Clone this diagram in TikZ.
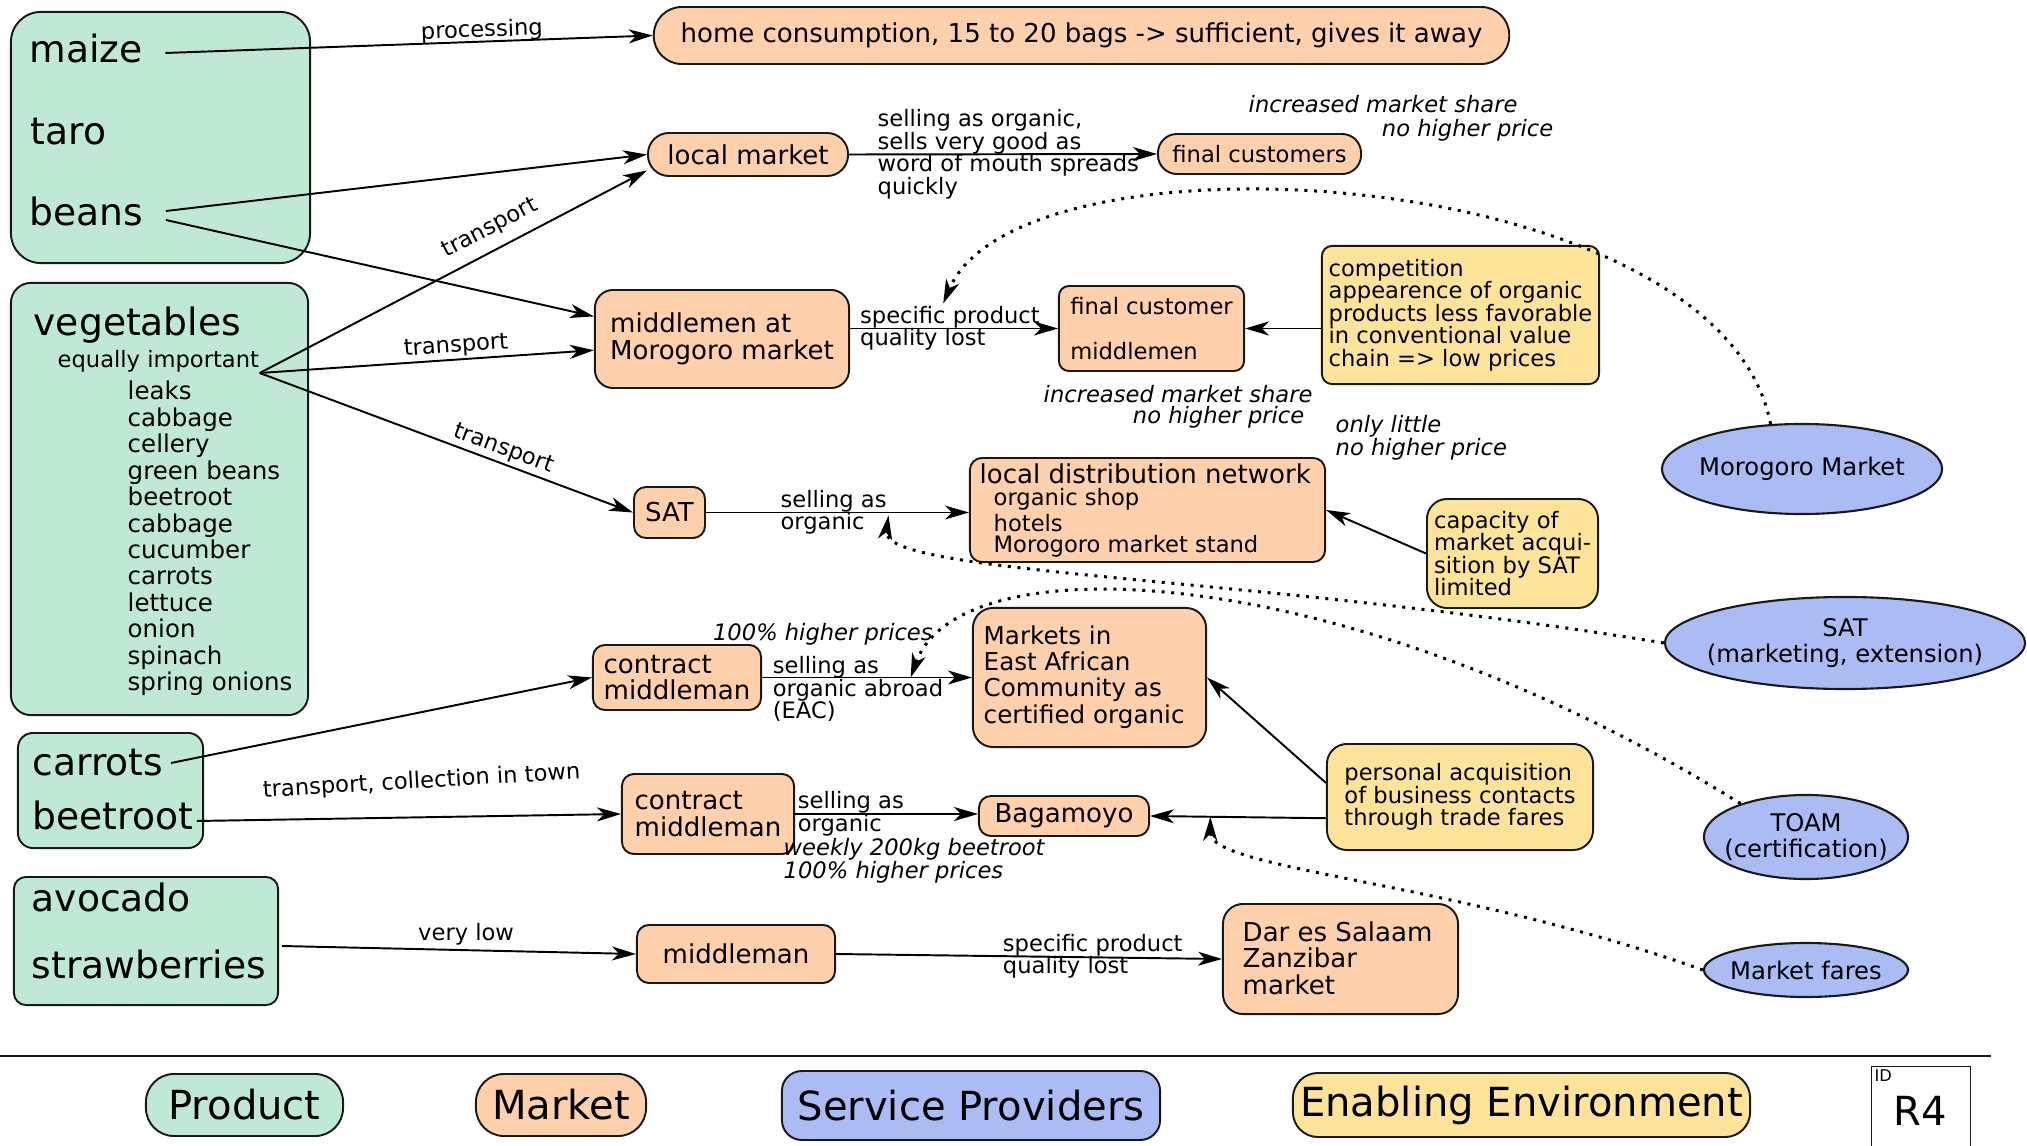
\documentclass[tikz,border=0pt]{standalone}
\usepackage{fontspec}
\setmainfont{DejaVu Sans}
\usetikzlibrary{arrows.meta,shapes.geometric,calc}

\definecolor{prodfill}{RGB}{191,233,212}
\definecolor{mktfill}{RGB}{254,208,172}
\definecolor{svcfill}{RGB}{170,188,243}
\definecolor{envfill}{RGB}{254,228,155}
\definecolor{rim}{RGB}{25,25,25}

\newcommand\fSmall{\fontsize{6.43pt}{6.4pt}\selectfont}
\newcommand\fMid{\fontsize{7.4pt}{7.55pt}\selectfont}
\newcommand\fBig{\fontsize{10.7pt}{12pt}\selectfont}
\newcommand\fSvc{\fontsize{6.9pt}{7.25pt}\selectfont}
\newcommand\fLeg{\fontsize{11.4pt}{12pt}\selectfont}
\newcommand\fList{\fontsize{6.97pt}{7.52pt}\selectfont}
\newcommand\fEac{\fontsize{7.0pt}{7.5pt}\selectfont}
\newcommand\fTag{\fontsize{4.6pt}{5pt}\selectfont}

\tikzset{
  box/.style={draw=rim, line width=0.55pt, inner sep=0pt, align=left},
  prod/.style={box, fill=prodfill},
  mkt/.style={box, fill=mktfill},
  env/.style={box, fill=envfill},
  svc/.style={draw=rim, line width=0.6pt, fill=svcfill, ellipse, inner sep=0pt},
  svctext/.style={font=\fSvc, align=center, inner sep=0pt},
  word/.style={font=\fBig, inner sep=0pt, anchor=mid west},
  link/.style={draw, line width=0.55pt, -{Stealth[length=0.24cm,width=0.14cm,inset=0.07cm]}},
  hint/.style={line width=0.85pt, dash pattern=on 0.85pt off 1.9pt, -{Stealth[length=0.24cm,width=0.14cm,inset=0.07cm]}},
  lbl/.style={font=\fSmall, inner sep=0pt, align=left},
  note/.style={font=\fSmall\itshape, inner sep=0pt, align=left},
}

\begin{document}
\begin{tikzpicture}[x=0.01cm, y=-0.01cm]
\useasboundingbox (0,0) rectangle (2027,1146);

% ---------- products ----------
\node[prod, minimum width=2.99cm, minimum height=2.51cm, rounded corners=0.3cm] (grainbox) at (160.5,137.5) {};
\node[word] (maize) at (29,53) {maize};
\node[word] (taro) at (30,135) {taro};
\node[word] (beans) at (29,216) {beans};

\node[prod, minimum width=2.97cm, minimum height=4.32cm, rounded corners=0.2cm] (vegbox) at (159.5,499) {};
\node[word] (veg) at (33,326) {vegetables};
\node[font=\fSmall, inner sep=0pt, anchor=mid west] (eqimp) at (57,358) {equally important};
\node[font=\fList, inner sep=0pt, align=left, anchor=west] (veglist) at (127,538.5)
  {leaks\\cabbage\\cellery\\green beans\\beetroot\\cabbage\\cucumber\\carrots\\lettuce\\onion\\spinach\\spring onions};

\node[prod, minimum width=1.85cm, minimum height=1.15cm, rounded corners=0.15cm] (cbbox) at (110.5,790.5) {};
\node[word] (carrots) at (32,766) {carrots};
\node[word] (beetroot) at (32,820) {beetroot};

\node[prod, minimum width=2.64cm, minimum height=1.28cm, rounded corners=0.12cm] (fruitbox) at (146,941) {};
\node[word] (avocado) at (31,902) {avocado};
\node[word] (straw) at (31,969) {strawberries};

% ---------- markets ----------
\node[mkt, font=\fMid, minimum width=8.55cm, minimum height=0.57cm, rounded corners=0.28cm] (home) at (1081.5,35.5)
  {home consumption, 15 to 20 bags -> sufficient, gives it away};
\node[mkt, font=\fMid, minimum width=2.0cm, minimum height=0.43cm, rounded corners=0.21cm] (locmkt) at (748,154.5) {local market};
\node[mkt, font=\fSmall, minimum width=2.03cm, minimum height=0.40cm, rounded corners=0.19cm] (finalcust) at (1259.5,154) {final customers};
\node[mkt, font=\fMid, minimum width=2.54cm, minimum height=0.98cm, rounded corners=0.18cm] (mmoro) at (722,339) {middlemen at\\Morogoro market};
\node[mkt, font=\fSmall, minimum width=1.85cm, minimum height=0.85cm, rounded corners=0.1cm] (fcmid) at (1151.5,328.5) {final customer\\[6.4pt]middlemen};
\node[mkt, font=\fMid, minimum width=0.71cm, minimum height=0.51cm, rounded corners=0.12cm] (satmkt) at (669.5,512.5) {SAT};
\node[mkt, minimum width=3.55cm, minimum height=1.04cm, rounded corners=0.12cm] (ldn) at (1147.5,510) {};
\node[font=\fMid, inner sep=0pt, anchor=mid west] (ldntitle) at (979,474) {local distribution network};
\node[font=\fontsize{6.43pt}{6.12pt}\selectfont, inner sep=0pt, align=left, anchor=west] (ldnlist) at (993,523)
  {organic shop\\hotels\\Morogoro market stand};
\node[mkt, font=\fMid, minimum width=1.68cm, minimum height=0.65cm, rounded corners=0.12cm] (cmtop) at (677,677.5) {contract\\middleman};
\node[mkt, minimum width=2.33cm, minimum height=1.39cm, rounded corners=0.2cm] (eac) at (1089.5,677.5) {};
\node[font=\fEac, inner sep=0pt, align=left, anchor=west] (eactext) at (983,677)
  {Markets in\\East African\\Community as\\certified organic};
\node[mkt, font=\fMid, minimum width=1.72cm, minimum height=0.80cm, rounded corners=0.12cm] (cmbot) at (708,814) {contract\\middleman};
\node[mkt, font=\fMid, minimum width=1.70cm, minimum height=0.40cm, rounded corners=0.12cm] (bagamoyo) at (1064,816) {Bagamoyo};
\node[mkt, font=\fMid, minimum width=1.98cm, minimum height=0.58cm, rounded corners=0.12cm] (mman) at (736,954) {middleman};
\node[mkt, minimum width=2.35cm, minimum height=1.10cm, rounded corners=0.2cm] (dar) at (1340.5,959) {};
\node[font=\fMid, inner sep=0pt, align=left, anchor=west] (dartext) at (1242,958) {Dar es Salaam\\Zanzibar\\market};

% ---------- enabling environment ----------
\node[env, font=\fSmall, minimum width=2.77cm, minimum height=1.38cm, rounded corners=0.1cm] (compet) at (1460.5,315)
  {competition\\appearence of organic\\products less favorable\\in conventional value\\chain => low prices};
\node[env, font=\fSmall, minimum width=1.71cm, minimum height=1.09cm, rounded corners=0.2cm] (capac) at (1512.5,553.5)
  {capacity of\\market acqui-\\sition by SAT\\limited};
\node[env, font=\fSmall, minimum width=2.66cm, minimum height=1.06cm, rounded corners=0.2cm] (persacq) at (1460,797)
  {personal acquisition\\of business contacts\\through trade fares};

% ---------- service providers ----------
\node[svc, minimum width=2.8cm, minimum height=0.9cm, label={[svctext]center:Morogoro Market}] (svcmoro) at (1802,469) {};
\node[svc, minimum width=3.6cm, minimum height=0.92cm, label={[svctext]center:SAT\\(marketing, extension)}] (svcsat) at (1845,643) {};
\node[svc, minimum width=2.04cm, minimum height=0.84cm, label={[svctext]center:TOAM\\(certification)}] (svctoam) at (1806,837) {};
\node[svc, minimum width=2.04cm, minimum height=0.54cm, label={[svctext]center:Market fares}] (svcfares) at (1806,970) {};

% ---------- flows ----------
\draw[link] ($(maize.mid east)+(22,0)$) -- node[lbl, pos=.65, above=-0.3pt, sloped]{processing} (home.west);
\draw[link] ($(beans.mid east)+(22,-5)$) -- (locmkt.west);
\draw[link] ($(beans.mid east)+(22,4)$) -- (mmoro.170);
\draw[link] (eqimp.south east) -- node[lbl, pos=.62, above=2.8pt, sloped]{transport} (locmkt.189);
\draw[link] (eqimp.south east) -- node[lbl, pos=.59, above=.5pt, sloped]{transport} (mmoro.185);
\draw[link] (eqimp.south east) -- node[lbl, pos=.64, above=.8pt, sloped]{transport} (satmkt.west);
\draw[link] ($(carrots.mid east)+(7,-3)$) -- (cmtop.west);
\draw[link] ($(beetroot.mid east)+(3,1)$) -- node[lbl, pos=.53, yshift=0.355cm, rotate=3.3]{transport, collection in town} (cmbot.west);
\draw[link] ($(fruitbox.east)+(3,5)$) -- node[lbl, pos=.52, above=1pt]{very low} (mman.west);

\draw[link] (locmkt.east) -- node[lbl, pos=.09, anchor=west]{selling as organic,\\sells very good as\\word of mouth spreads\\quickly} (finalcust.west);
\draw[link] (mmoro.east |- fcmid.west) -- node[lbl, pos=.044, anchor=west]{specific product\\quality lost}
  coordinate[pos=.448] (mmtarget) (fcmid.west);
\draw[link] (fcmid.east -| compet.west) -- (fcmid.east);
\draw[link] (satmkt.east) -- node[lbl, pos=.28, anchor=west]{selling as\\organic}
  coordinate[pos=.694] (satlink) (satmkt.east -| ldn.west);
\draw[link] (capac.west) -- (ldn.east);
\draw[link] (cmtop.east) -- node[lbl, pos=.047, anchor=west, yshift=-0.115cm]{selling as\\organic abroad\\(EAC)}
  node[note, pos=.29, yshift=0.43cm]{100\% higher prices}
  coordinate[pos=.708] (eaclink) (eac.west);
\draw[link] (persacq.174) -- (eac.east);
\draw[link] (cmbot.east) -- node[lbl, pos=.01, anchor=west]{selling as\\organic} (cmbot.east -| bagamoyo.west);
\draw[link] (persacq.189) -- coordinate[pos=.657] (baglink) (bagamoyo.east);
\draw[link] (mman.east) -- node[lbl, pos=.43, anchor=west]{specific product\\quality lost} (dar.west);

% ---------- remarks ----------
\node[note, anchor=mid west] (rem1a) at (1248,103) {increased market share};
\node[note, anchor=mid east] (rem1b) at (1554,127) {no higher price};
\node[note, anchor=mid west] (rem2a) at (1043,393) {increased market share};
\node[note, anchor=mid east] (rem2b) at (1305,414) {no higher price};
\node[note, anchor=west] (rem3) at (1335,438) {only little\\no higher price};
\node[note, anchor=west] (rem4) at (783,861) {weekly 200kg beetroot\\100\% higher prices};

% ---------- influence of service providers ----------
\draw[hint] (svcmoro.125) .. controls (1720,162) and (1020,122) .. ($(mmtarget)+(0,-25)$);
\draw[hint] (svcsat.west) .. controls (1250,575) and (880,575) .. ($(satlink)+(0,3)$);
\draw[hint] (svctoam.153) .. controls (1350,560) and (960,540) .. (eaclink);
\draw[hint] (svcfares.west) .. controls (1450,880) and (1210,870) .. (baglink);

% ---------- legend ----------
\draw[rim, line width=0.8pt] (0,1056) -- (1991,1056);
\node[prod, font=\fLeg, minimum width=1.97cm, minimum height=0.62cm, rounded corners=0.28cm] (legprod) at (244.5,1105) {Product};
\node[mkt, font=\fLeg, minimum width=1.70cm, minimum height=0.62cm, rounded corners=0.28cm] (legmkt) at (561,1105) {Market};
\node[box, fill=svcfill, font=\fLeg, minimum width=3.78cm, minimum height=0.69cm, rounded corners=0.2cm] (legsvc) at (971,1105.5) {Service Providers};
\node[env, font=\fLeg, minimum width=4.57cm, minimum height=0.64cm, rounded corners=0.25cm] (legenv) at (1521.5,1105) {Enabling Environment};
\node[draw=rim, line width=0.4pt, minimum width=0.99cm, minimum height=1.0cm, anchor=north west, inner sep=0pt] (idbox) at (1871,1066) {};
\node[font=\fTag, inner sep=0pt, anchor=north west] (idtag) at (1874,1069) {ID};
\node[font=\fLeg, inner sep=0pt] (idval) at (1920,1111) {R4};
\end{tikzpicture}
\end{document}
